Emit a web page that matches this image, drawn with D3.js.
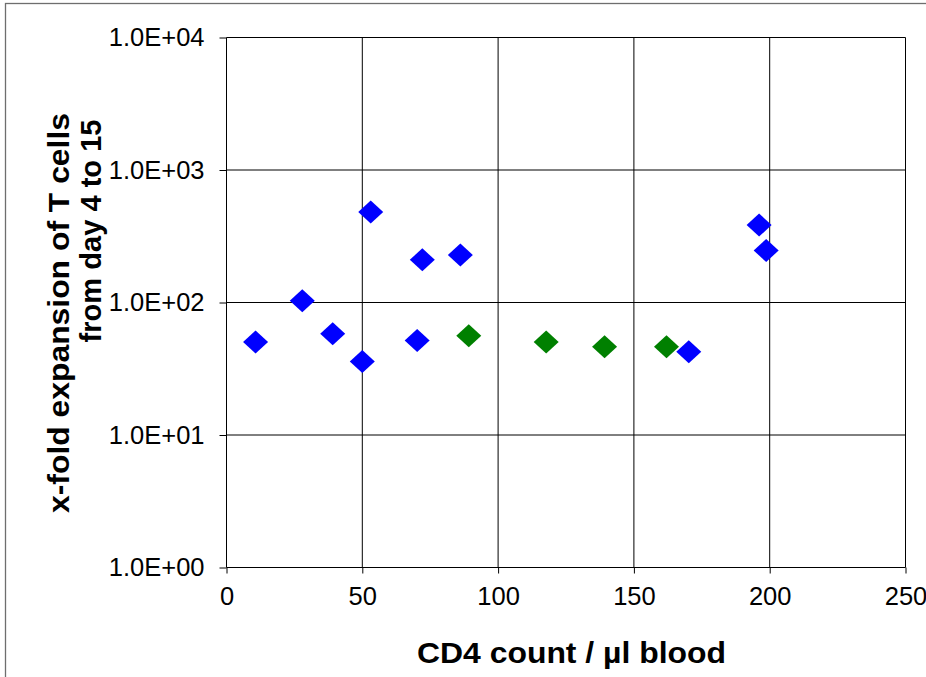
<!DOCTYPE html>
<html>
<head>
<meta charset="utf-8">
<script src="https://cdn.jsdelivr.net/npm/d3@7"></script>
<style>
  html, body { margin: 0; padding: 0; background: #fff; }
  svg { display: block; font-family: "Liberation Sans", Arial, sans-serif; }
</style>
</head>
<body>
<div id="chart"></div>
<script>
// ── Data ─────────────────────────────────────────────────────────
const blueX = [10.7, 27.9, 39.1, 50.0, 53.1, 70.2, 72.1, 86.1, 170.2, 196.1, 198.7];
const blueY = [50.3, 103, 58.0, 35.9, 481, 51.7, 210, 228, 42.5, 384, 247];
const greenX = [89.2, 117.7, 139.2, 162.0];
const greenY = [56.1, 50.3, 46.3, 46.3];

const xTicks = [0, 50, 100, 150, 200, 250];
const yTicks = [1, 10, 100, 1000, 10000];
const yTickLabels = ['1.0E+00', '1.0E+01', '1.0E+02', '1.0E+03', '1.0E+04'];

const xTitle = 'CD4 count / \u00b5l blood';
const yTitle = ['x-fold expansion of T cells', 'from day 4 to 15'];

// ── Layout ───────────────────────────────────────────────────────
const W = 926, H = 677;
const plot = { left: 226.5, right: 905.5, top: 37.5, bottom: 567.5 };

const svg = d3.select('#chart')
  .append('svg')
  .attr('width', W)
  .attr('height', H);

// outer chart frame
svg.append('rect')
  .attr('x', 5.5).attr('y', 3.5)
  .attr('width', W + 10).attr('height', H + 10)
  .attr('fill', 'none')
  .attr('stroke', '#6e6e6e')
  .attr('stroke-width', 1.3);

const x = d3.scaleLinear().domain([0, 250]).range([plot.left, plot.right]);
const y = d3.scaleLog().domain([1, 10000]).range([plot.bottom, plot.top]);

// ── Grid ─────────────────────────────────────────────────────────
const grid = svg.append('g').attr('stroke', '#000').attr('stroke-width', 1);

grid.selectAll('.hgrid')
  .data(yTicks.slice(1))
  .enter()
  .append('line')
  .attr('x1', plot.left).attr('x2', plot.right)
  .attr('y1', d => y(d)).attr('y2', d => y(d));

grid.selectAll('.vgrid')
  .data(xTicks.slice(1))
  .enter()
  .append('line')
  .attr('x1', d => x(d)).attr('x2', d => x(d))
  .attr('y1', plot.top).attr('y2', plot.bottom);

// ── Axes ─────────────────────────────────────────────────────────
const xAxis = svg.append('g')
  .attr('transform', `translate(0,${plot.bottom})`)
  .call(d3.axisBottom(x).tickValues(xTicks).tickSize(6).tickPadding(13).tickFormat(d3.format('d')));

const yAxis = svg.append('g')
  .attr('transform', `translate(${plot.left},0)`)
  .call(d3.axisLeft(y).tickValues(yTicks).tickSize(7).tickPadding(15)
    .tickFormat((d, i) => yTickLabels[i]));

[xAxis, yAxis].forEach(a => {
  a.select('.domain').attr('stroke', '#000').attr('stroke-width', 1);
  a.selectAll('.tick line').attr('stroke', '#000');
  a.selectAll('.tick text')
    .attr('fill', '#000')
    .attr('font-size', 25.5)
    .attr('font-family', '"Liberation Sans", Arial, sans-serif');
});
// remove outer tick stubs on the domain paths
xAxis.select('.domain').attr('d', `M${plot.left},0H${plot.right}`);
yAxis.select('.domain').attr('d', `M0,${plot.top}V${plot.bottom}`);

// ── Markers ──────────────────────────────────────────────────────
const hw = 12.5, hh = 11.5;
const diamond = `M0,${-hh}L${hw},0L0,${hh}L${-hw},0Z`;

function drawSeries(xs, ys, color) {
  svg.append('g')
    .selectAll('path')
    .data(xs.map((v, i) => [v, ys[i]]))
    .enter()
    .append('path')
    .attr('d', diamond)
    .attr('transform', d => `translate(${x(d[0])},${y(d[1])})`)
    .attr('fill', color);
}
drawSeries(greenX, greenY, '#008000');
drawSeries(blueX, blueY, '#0000ff');

// ── Titles ───────────────────────────────────────────────────────
svg.append('text')
  .attr('x', 571.5).attr('y', 663)
  .attr('text-anchor', 'middle')
  .attr('font-size', 30)
  .attr('font-weight', 'bold')
  .attr('textLength', 309)
  .attr('lengthAdjust', 'spacingAndGlyphs')
  .text(xTitle);

svg.append('text')
  .attr('transform', 'translate(69,313) rotate(-90)')
  .attr('text-anchor', 'middle')
  .attr('font-size', 30)
  .attr('font-weight', 'bold')
  .attr('textLength', 400)
  .attr('lengthAdjust', 'spacingAndGlyphs')
  .text(yTitle[0]);

svg.append('text')
  .attr('transform', 'translate(101,231) rotate(-90)')
  .attr('text-anchor', 'middle')
  .attr('font-size', 30)
  .attr('font-weight', 'bold')
  .attr('textLength', 223)
  .attr('lengthAdjust', 'spacingAndGlyphs')
  .text(yTitle[1]);
</script>
</body>
</html>
